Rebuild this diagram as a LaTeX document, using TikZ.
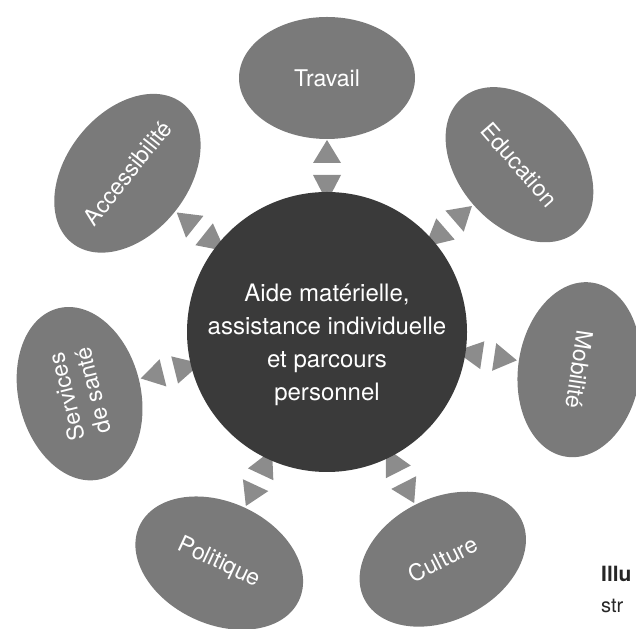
\documentclass[tikz,border=0pt]{standalone}
\usepackage{fontspec}
\setmainfont{TeX Gyre Heros}
\usetikzlibrary{shapes.geometric,calc}
\definecolor{hubgray}{HTML}{3A3A3A}
\definecolor{satgray}{HTML}{7A7A7A}
\definecolor{trigray}{HTML}{8C8C8C}
\pgfdeclarelayer{bg}
\pgfsetlayers{bg,main}
\tikzset{
  hub/.style={circle, fill=hubgray, minimum size=280pt, inner sep=0pt},
  hubtext/.style={inner sep=0pt, text=white, align=center,
    font=\fontsize{24}{33}\selectfont},
  sat/.style={ellipse, fill=satgray, minimum width=176pt, minimum height=122pt,
    inner sep=0pt, text=white, align=center, font=\fontsize{23}{27}\selectfont},
  tri/.style={fill=trigray},
  capt/.style={anchor=base west, inner sep=0pt, text=black!85,
    font=\fontsize{20}{22}\selectfont}
}
\newcommand\tripair[2]{%
  \path ($(#1.center)!130pt!(#2.center)$) coordinate (ia)
        ($(#1.center)!157pt!(#2.center)$) coordinate (ib)
        ($(#1.center)!169pt!(#2.center)$) coordinate (ob)
        ($(#1.center)!192pt!(#2.center)$) coordinate (oa);
  \fill[tri] (ia) -- ($(ib)!14pt!90:(#2.center)$) -- ($(ib)!14pt!-90:(#2.center)$) -- cycle;
  \fill[tri] (oa) -- ($(ob)!14pt!90:(#2.center)$) -- ($(ob)!14pt!-90:(#2.center)$) -- cycle;
}
\begin{document}
\begin{tikzpicture}[x=1pt,y=1pt]
\useasboundingbox (0,0) rectangle (636,628);
\clip (0,0) rectangle (636,628);
\coordinate (O) at (327,296);
\node[hub] (hub) at (O) {};
\node[hubtext] (hubt) at ($(hub.center)+(0,-13)$) {Aide matérielle,\\assistance individuelle\\et parcours\\personnel};
\node[sat, rotate=0]     (trav) at ($(O)+(90:254)$)    {Travail};
\node[sat, rotate=-49]   (educ) at ($(O)+(41:255)$)    {Education};
\node[sat, rotate=-98.5] (mob)  at ($(O)+(-8.5:255)$)  {Mobilité};
\node[sat, rotate=27]    (cult) at ($(O)+(-63:255)$)   {Culture};
\node[sat, rotate=-25]   (pol)  at ($(O)+(-115:255)$)  {Politique};
\node[sat, rotate=104]   (sant) at ($(O)+(-166:255)$)  {Services\\de santé};
\node[sat, rotate=51.5]  (acc)  at ($(O)+(141.5:255)$) {Accessibilité};
\begin{pgfonlayer}{bg}
\tripair{hub}{trav}
\tripair{hub}{educ}
\tripair{hub}{mob}
\tripair{hub}{cult}
\tripair{hub}{pol}
\tripair{hub}{sant}
\tripair{hub}{acc}
\end{pgfonlayer}
\node[capt, font=\fontsize{21}{22}\bfseries] (cap1) at (601,46) {Illu};
\node[capt] (cap2) at (601,16) {str};
\end{tikzpicture}
\end{document}
